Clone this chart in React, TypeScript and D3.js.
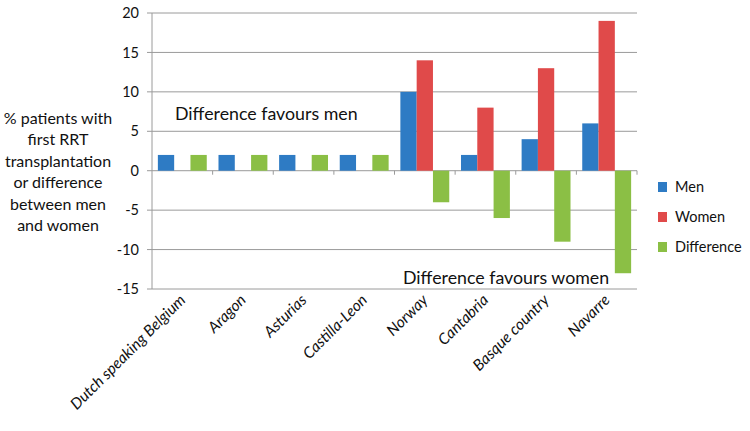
import React from "react";
import * as d3 from "d3";

const categories = ["Dutch speaking Belgium", "Aragon", "Asturias", "Castilla-Leon", "Norway", "Cantabria", "Basque country", "Navarre"];
const menValues = [2, 2, 2, 2, 10, 2, 4, 6];
const womenValues = [0, 0, 0, 0, 14, 8, 13, 19];
const differenceValues = [2, 2, 2, 2, -4, -6, -9, -13];
const seriesNames = ["Men", "Women", "Difference"];
const seriesColors = ["#2e7bc4", "#e04a4a", "#8bbf45"];
const yTicks = [20, 15, 10, 5, 0, -5, -10, -15];
const titleLines = ["% patients with", "first RRT", "transplantation", "or difference", "between men", "and women"];

const FONT = "Lato, 'Open Sans', sans-serif";

export default function App() {
  const W = 750, H = 431;
  const left = 152, right = 637, top = 13, bottom = 289;
  const x = d3.scaleBand<string>().domain(categories).range([left, right]).paddingInner(0).paddingOuter(0);
  const y = d3.scaleLinear().domain([-15, 20]).range([bottom, top]);
  const inner = d3.scaleBand<string>().domain(seriesNames).range([0, x.bandwidth()]).paddingInner(0).paddingOuter(0.36);
  const series = [menValues, womenValues, differenceValues];

  return (
    <svg width={W} height={H} style={{ position: "absolute", left: 0, top: 0, background: "#fff" }} fontFamily={FONT}>
      {yTicks.map((t) => (
        <line key={"g" + t} x1={left - 5} x2={right} y1={y(t)} y2={y(t)} stroke="#9a9a9a" strokeWidth={1} />
      ))}
      <line x1={left} x2={left} y1={top} y2={bottom} stroke="#9a9a9a" strokeWidth={1} />
      {yTicks.map((t) => (
        <text key={"t" + t} x={139} y={y(t)} dy="0.35em" textAnchor="end" fontSize={14.5} fill="#111">{t}</text>
      ))}
      {categories.map((c, i) => (
        <line key={"ct" + i} x1={(x(c) as number) + x.bandwidth()} x2={(x(c) as number) + x.bandwidth()} y1={y(0)} y2={y(0) + 4} stroke="#9a9a9a" />
      ))}
      {series.map((vals, si) =>
        vals.map((v, i) => {
          const cx = (x(categories[i]) as number) + (inner(seriesNames[si]) as number);
          const y0 = y(Math.max(0, v));
          const h = Math.abs(y(v) - y(0));
          return h > 0 ? (
            <rect key={si + "-" + i} x={cx} y={y0} width={inner.bandwidth()} height={h} fill={seriesColors[si]} />
          ) : null;
        })
      )}
      {categories.map((c, i) => {
        const cx = (x(c) as number) + x.bandwidth() / 2 + 4;
        const cy = bottom + 12;
        return (
          <text key={"cl" + i} transform={`translate(${cx},${cy}) rotate(-45)`} textAnchor="end" fontSize={15.5} fontStyle="italic" fill="#111">{c}</text>
        );
      })}
      <text x={175} y={120} fontSize={17.8} fill="#111">Difference favours men</text>
      <text x={403} y={284} fontSize={17.8} fill="#111">Difference favours women</text>
      {titleLines.map((l, i) => (
        <text key={"yt" + i} x={58} y={123.5 + i * 21.5} textAnchor="middle" fontSize={16} fill="#111">{l}</text>
      ))}
      {seriesNames.map((n, i) => (
        <g key={"lg" + i}>
          <rect x={658} y={182 + i * 30} width={9} height={10} fill={seriesColors[i]} />
          <text x={675} y={187 + i * 30} dy="0.35em" fontSize={14.5} fill="#111">{n}</text>
        </g>
      ))}
    </svg>
  );
}
